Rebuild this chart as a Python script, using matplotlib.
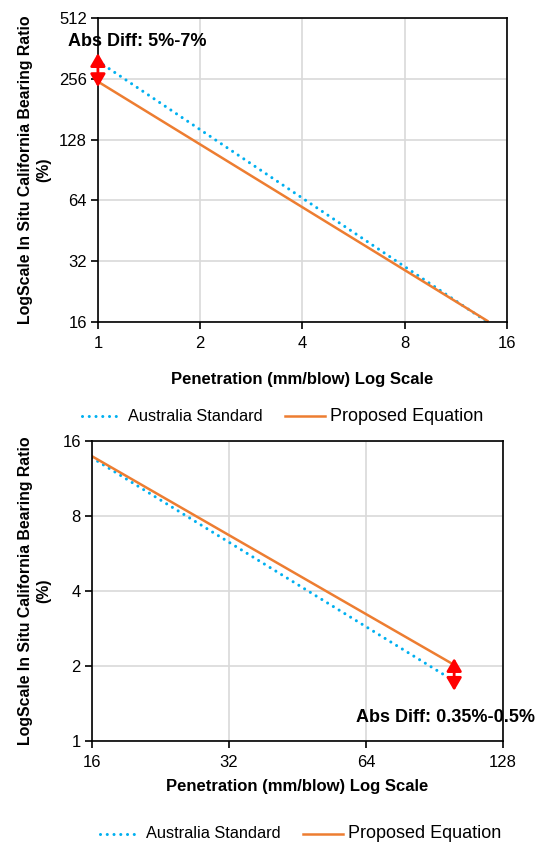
import matplotlib.pyplot as plt
from matplotlib.ticker import FixedLocator, FuncFormatter, NullLocator

# top panel (penetration 1-16 mm/blow)
pen_top = [1, 14]
aus_top = [313, 16]
prop_top = [248, 16.2]
arrow_top = [233, 343]
xticks_top = [1, 2, 4, 8, 16]
yticks_top = [16, 32, 64, 128, 256, 512]

# bottom panel (penetration 16-128 mm/blow)
pen_bot = [16, 100]
aus_bot = [13.7, 1.74]
prop_bot = [13.9, 2.02]
arrow_bot = [1.59, 2.15]
xticks_bot = [16, 32, 64, 128]
yticks_bot = [1, 2, 4, 8, 16]

BLUE = '#00B0F0'
ORANGE = '#ED7D31'
DOTS = (0, (0.01, 2.2))
ARROW = dict(arrowstyle='<|-|>,head_length=0.55,head_width=0.32', color='red', lw=2,
             mutation_scale=14, shrinkA=0, shrinkB=0)

plt.rcParams['font.family'] = ['Liberation Sans', 'DejaVu Sans']

fig = plt.figure(figsize=(5.47, 8.42), dpi=100)
ax1 = fig.add_axes([0.179, 0.6176, 0.748, 0.361])
ax2 = fig.add_axes([0.168, 0.1200, 0.7515, 0.3563])


def style_axes(ax, xticks, yticks, xpad, ylab_x):
    ax.set_xscale('log', base=2)
    ax.set_yscale('log', base=2)
    ax.set_xlim(xticks[0], xticks[-1])
    ax.set_ylim(yticks[0], yticks[-1])
    ax.xaxis.set_major_locator(FixedLocator(xticks))
    ax.yaxis.set_major_locator(FixedLocator(yticks))
    ax.xaxis.set_minor_locator(NullLocator())
    ax.yaxis.set_minor_locator(NullLocator())
    fmt = FuncFormatter(lambda v, p: '%g' % v)
    ax.xaxis.set_major_formatter(fmt)
    ax.yaxis.set_major_formatter(fmt)
    ax.grid(True, color='#D9D9D9', lw=1.2)
    ax.set_axisbelow(True)
    for s in ax.spines.values():
        s.set_color('black')
        s.set_linewidth(1.2)
    ax.tick_params(direction='out', length=5, width=1.2, labelsize=12)
    ax.tick_params(axis='x', pad=5)
    ax.tick_params(axis='y', pad=3)
    ax.set_xlabel('Penetration (mm/blow) Log Scale', fontsize=12, fontweight='bold', labelpad=xpad)
    ax.set_ylabel('LogScale In Situ California Bearing Ratio\n(%)', fontsize=11.4,
                  fontweight='bold', linespacing=1.27)
    ax.yaxis.set_label_coords(ylab_x, 0.5)


def add_legend(ax, x, y):
    leg = ax.legend(loc='center', bbox_to_anchor=(x, y), ncol=2, frameon=False,
                    handlelength=2.9, columnspacing=1.6, handletextpad=0.4,
                    borderaxespad=0)
    leg.get_texts()[0].set_fontsize(11.8)
    leg.get_texts()[1].set_fontsize(13)


# top
style_axes(ax1, xticks_top, yticks_top, 15, -0.115)
ax1.plot(pen_top, aus_top, color=BLUE, lw=2.2, ls=DOTS,
         dash_capstyle='round', label='Australia Standard', clip_on=False)
ax1.plot(pen_top, prop_top, color=ORANGE, lw=1.8, label='Proposed Equation', clip_on=False)
ax1.annotate('', xy=(pen_top[0], arrow_top[1]), xytext=(pen_top[0], arrow_top[0]),
             arrowprops=ARROW, annotation_clip=False)
ax1.text(0.816, 390, 'Abs Diff: 5%-7%', fontsize=13, fontweight='bold', ha='left', va='center')
add_legend(ax1, 0.452, -0.312)

# bottom
style_axes(ax2, xticks_bot, yticks_bot, 6.5, -0.10)
ax2.plot(pen_bot, aus_bot, color=BLUE, lw=2.2, ls=DOTS,
         dash_capstyle='round', label='Australia Standard')
ax2.plot(pen_bot, prop_bot, color=ORANGE, lw=1.8, label='Proposed Equation')
ax2.annotate('', xy=(pen_bot[1], arrow_bot[1]), xytext=(pen_bot[1], arrow_bot[0]),
             arrowprops=ARROW)
ax2.text(60.8, 1.237, 'Abs Diff: 0.35%-0.5%', fontsize=13, fontweight='bold',
         ha='left', va='center')
add_legend(ax2, 0.508, -0.31)

fig.savefig('out.png', dpi=100)
